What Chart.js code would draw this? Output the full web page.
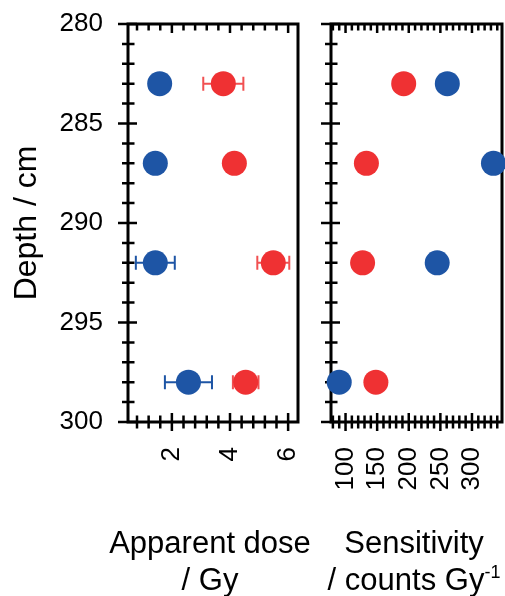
<!DOCTYPE html>
<html>
<head>
<meta charset="utf-8">
<script src="https://cdn.jsdelivr.net/npm/chart.js@4/dist/chart.umd.min.js"></script>
<style>
  html, body { margin: 0; padding: 0; background: #fff; }
  body { width: 505px; height: 596px; position: relative; overflow: hidden; }
  canvas { position: absolute; top: 0; }
  #doseChart { left: 0; }
  #sensChart { left: 305px; }
  .xtitle {
    position: absolute; top: 525px; width: 240px; text-align: center;
    font-family: Arial, "Liberation Sans", sans-serif; font-size: 31px;
    line-height: 36.7px; color: #000; white-space: nowrap;
  }
  .xtitle sup { font-size: 18px; line-height: 0; vertical-align: 12px; }
</style>
</head>
<body>
<canvas id="doseChart" width="310" height="596"></canvas>
<canvas id="sensChart" width="200" height="596"></canvas>
<div class="xtitle" style="left: 90px;">Apparent dose<br>/ Gy</div>
<div class="xtitle" style="left: 294px;">Sensitivity<br>/ counts Gy<sup>-1</sup></div>

<script>
// Depth of each sample (cm)
const depths = [283, 287, 292, 298];

// Apparent dose (Gy) and x error bars
const doseBlue = [1.58, 1.43, 1.43, 2.57];
const doseBlueErr = [0, 0, 0.67, 0.81];
const doseRed = [3.77, 4.15, 5.49, 4.54];
const doseRedErr = [0.69, 0, 0.55, 0.44];

// Sensitivity (counts / Gy)
const sensBlue = [261, 334, 245, 90];
const sensRed = [192, 133, 127, 148];

// Tick labels
const depthTicks = [280, 285, 290, 295, 300];
const doseTicks = [2, 4, 6];
const sensTicks = [100, 150, 200, 250, 300];

const BLUE = '#1e55a5';
const RED = '#ef3133';
const FONT = 'Arial, "Liberation Sans", sans-serif';

function points(xs) {
  return xs.map((v, i) => ({ x: v, y: depths[i] }));
}

// frame lines + ticks that cross the axes, drawn under the points
const frameTicks = {
  id: 'frameTicks',
  beforeDatasetsDraw(chart, args, opts) {
    const { ctx, chartArea: a, scales: { x, y } } = chart;
    ctx.save();
    ctx.strokeStyle = '#000';
    ctx.lineWidth = 3;
    ctx.beginPath();
    ctx.moveTo(a.left, a.top);
    ctx.lineTo(a.right, a.top);
    ctx.lineTo(a.right, a.bottom);
    ctx.lineTo(a.left, a.bottom);
    ctx.closePath();
    ctx.stroke();

    ctx.lineWidth = 2.5;
    ctx.beginPath();
    eachStep(x.min, x.max, opts.xMinor, opts.xMajor, (v, major) => {
      const px = x.getPixelForValue(v);
      const l = major ? 9 : 6.5;
      ctx.moveTo(px, a.bottom - l);
      ctx.lineTo(px, a.bottom + l);
      ctx.moveTo(px, a.top);
      ctx.lineTo(px, a.top + l);
    });
    eachStep(y.min, y.max, 1, 5, (v, major) => {
      const py = y.getPixelForValue(v);
      ctx.moveTo(a.left - (major ? 10 : 6), py);
      ctx.lineTo(a.left + (major ? 9 : 6.5), py);
    });
    ctx.stroke();
    ctx.restore();
  }
};

function eachStep(min, max, step, majorStep, fn) {
  const k0 = Math.ceil(min / step - 1e-9);
  const k1 = Math.floor(max / step + 1e-9);
  for (let k = k0; k <= k1; k++) {
    const v = k * step;
    const r = v / majorStep;
    fn(v, Math.abs(r - Math.round(r)) < 1e-6);
  }
}

// horizontal error bars with caps
const errorBars = {
  id: 'errorBars',
  beforeDatasetsDraw(chart) {
    const { ctx, scales: { x, y } } = chart;
    chart.data.datasets.forEach(ds => {
      if (!ds.xErr) return;
      ctx.save();
      ctx.strokeStyle = ds.errColor;
      ctx.lineWidth = 2;
      ctx.beginPath();
      ds.data.forEach((p, i) => {
        const e = ds.xErr[i];
        if (!e) return;
        const py = y.getPixelForValue(p.y);
        const x0 = x.getPixelForValue(p.x - e);
        const x1 = x.getPixelForValue(p.x + e);
        ctx.moveTo(x0, py); ctx.lineTo(x1, py);
        ctx.moveTo(x0, py - 7); ctx.lineTo(x0, py + 7);
        ctx.moveTo(x1, py - 7); ctx.lineTo(x1, py + 7);
      });
      ctx.stroke();
      ctx.restore();
    });
  }
};

function dataset(label, xs, color, err, errColor) {
  return {
    label: label,
    data: points(xs),
    backgroundColor: color,
    borderWidth: 0,
    pointRadius: 12.5,
    pointHoverRadius: 12.5,
    clip: false,
    xErr: err,
    errColor: errColor
  };
}

function fixedTicks(values) {
  return function(scale) {
    scale.ticks = values.map(v => ({ value: v }));
  };
}

// keep the plot area exactly where the layout padding puts it
function noPadding(scale) {
  scale.paddingLeft = 0;
  scale.paddingRight = 0;
  scale.paddingTop = 0;
  scale.paddingBottom = 0;
}

function depthAxis(width, showLabels) {
  return {
    type: 'linear',
    reverse: true,
    min: 280,
    max: 300,
    afterBuildTicks: fixedTicks(depthTicks),
    afterFit: function(scale) { scale.width = width; noPadding(scale); },
    grid: { display: false, drawTicks: false },
    border: { display: false },
    ticks: {
      display: showLabels,
      padding: 25,
      color: '#000',
      font: { family: FONT, size: 26 }
    },
    title: {
      display: showLabels,
      text: 'Depth / cm',
      color: '#000',
      font: { family: FONT, size: 32 },
      padding: { top: 8, bottom: 0 }
    }
  };
}

function valueAxis(min, max, values) {
  return {
    type: 'linear',
    min: min,
    max: max,
    afterBuildTicks: fixedTicks(values),
    afterFit: function(scale) { scale.height = 174; noPadding(scale); },
    grid: { display: false, drawTicks: false },
    border: { display: false },
    ticks: {
      autoSkip: false,
      minRotation: 90,
      maxRotation: 90,
      padding: 25,
      color: '#000',
      font: { family: FONT, size: 26 }
    }
  };
}

const common = {
  responsive: false,
  animation: false,
  events: [],
  plugins: { legend: { display: false }, tooltip: { enabled: false } }
};

new Chart(document.getElementById('doseChart').getContext('2d'), {
  type: 'scatter',
  data: {
    datasets: [
      dataset('Blue', doseBlue, BLUE, doseBlueErr, BLUE),
      dataset('Red', doseRed, RED, doseRedErr, 'rgba(239, 49, 51, 0.85)')
    ]
  },
  options: Object.assign({}, common, {
    layout: { autoPadding: false, padding: { top: 24, right: 12, left: 0, bottom: 0 } },
    scales: {
      x: valueAxis(0.49, 6.34, doseTicks),
      y: depthAxis(128, true)
    },
    plugins: Object.assign({}, common.plugins, { frameTicks: { xMinor: 0.4, xMajor: 2 } })
  }),
  plugins: [frameTicks, errorBars]
});

new Chart(document.getElementById('sensChart').getContext('2d'), {
  type: 'scatter',
  data: {
    datasets: [
      dataset('Blue', sensBlue, BLUE),
      dataset('Red', sensRed, RED)
    ]
  },
  options: Object.assign({}, common, {
    layout: { autoPadding: false, padding: { top: 24, right: 3, left: 0, bottom: 0 } },
    scales: {
      x: valueAxis(77, 347.5, sensTicks),
      y: depthAxis(26, false)
    },
    plugins: Object.assign({}, common.plugins, { frameTicks: { xMinor: 10, xMajor: 50 } })
  }),
  plugins: [frameTicks, errorBars]
});
</script>
</body>
</html>
